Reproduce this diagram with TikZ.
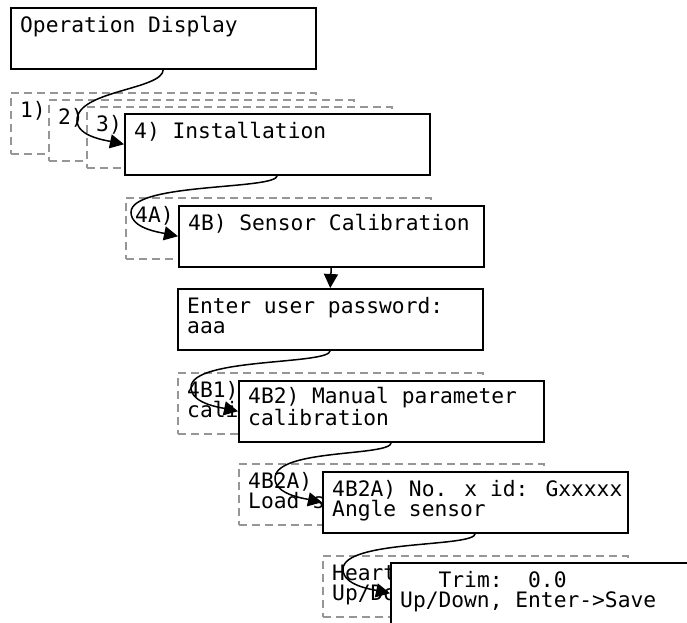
\documentclass[tikz,border=0pt]{standalone}
\usepackage{fontspec}
\setmainfont{DejaVu Sans Mono}
\usetikzlibrary{arrows.meta,calc}

\definecolor{ghost}{RGB}{150,150,150}

\tikzset{
  screen/.style={draw=black, line width=1.5pt, fill=white, inner sep=0pt,
    minimum width=305pt, minimum height=61pt, anchor=north west},
  ghostscreen/.style={draw=ghost, line width=1.5pt, fill=white, inner sep=0pt,
    dash pattern=on 8pt off 5pt,
    minimum width=305pt, minimum height=61pt, anchor=north west},
  txt/.style={anchor=base west, inner sep=0pt, align=left,
    font=\fontsize{21.26pt}{20pt}\selectfont, xshift=10pt, yshift=-25pt},
  txttwo/.style={txt, yshift=-20pt},
  edge/.style={draw=black, line width=1.5pt,
    -{Triangle[length=14pt,width=14pt]}}
}

% curved menu link: from the bottom of one screen, round the left,
% into the west side of the next one
\newcommand\menulink[2]{%
  \draw[edge] let \p1=(#1.south), \p2=(#2.west), \p3=(\x2-47pt,\y2+24pt) in
    (\p1) .. controls (\x1,{\y1+0.4*(\y3-\y1)}) and (\x3,\y3+30pt) .. (\p3)
          .. controls (\x3,\y3-16pt) and (\x2-19pt,\y2+4pt) .. (\p2);}

\begin{document}
\begin{tikzpicture}[x=1pt,y=1pt]
\path[use as bounding box] (0,0) rectangle (687,-622);
\clip (0,0) rectangle (687,-622);

% top level
\node[screen] (od) at (10,-7) {};
\node[txt] (odt) at (od.north west) {Operation Display};

% main menu entries
\node[ghostscreen] (m1) at (10,-92) {};
\node[txt] (m1t) at (m1.north west) {1)};
\node[ghostscreen] (m2) at (48,-99) {};
\node[txt] (m2t) at (m2.north west) {2)};
\node[ghostscreen] (m3) at (86,-106) {};
\node[txt] (m3t) at (m3.north west) {3)};
\node[screen] (inst) at (124,-113) {};
\node[txt] (instt) at (inst.north west) {4) Installation};

% installation submenu
\node[ghostscreen] (i4a) at (125,-197) {};
\node[txt] (i4at) at (i4a.north west) {4A)};
\node[screen] (cal) at (178,-205) {};
\node[txt] (calt) at (cal.north west) {4B) Sensor Calibration};

% password prompt
\node[screen] (pwd) at (177,-288) {};
\node[txttwo] (pwdt) at (pwd.north west) {Enter user password:\\aaa};

% calibration submenu
\node[ghostscreen] (c1) at (177,-372) {};
\node[txttwo] (c1t) at (c1.north west) {4B1)\\cali};
\node[screen] (man) at (238,-380) {};
\node[txttwo] (mant) at (man.north west) {4B2) Manual parameter\\calibration};

% sensor list
\node[ghostscreen] (s1) at (238,-463) {};
\node[txttwo] (s1t) at (s1.north west) {4B2A)\\Load s};
\node[screen] (ang) at (322,-471) {};
\node[txttwo] (angt) at (ang.north west) {4B2A) No. x id: Gxxxxx\\Angle sensor};

% sensor parameters
\node[ghostscreen] (p1) at (322,-555) {};
\node[txttwo] (p1t) at (p1.north west) {Heart\\Up/Do};
\node[screen] (trim) at (390,-562) {};
\node[txttwo] (trimt) at (trim.north west) {\ \ \ Trim:\ \ 0.0\\Up/Down, Enter->Save};

% links
\menulink{od}{inst}
\menulink{inst}{cal}
\draw[edge] (cal.south) -- (pwd.north);
\menulink{pwd}{man}
\menulink{man}{ang}
\menulink{ang}{trim}
\end{tikzpicture}
\end{document}
